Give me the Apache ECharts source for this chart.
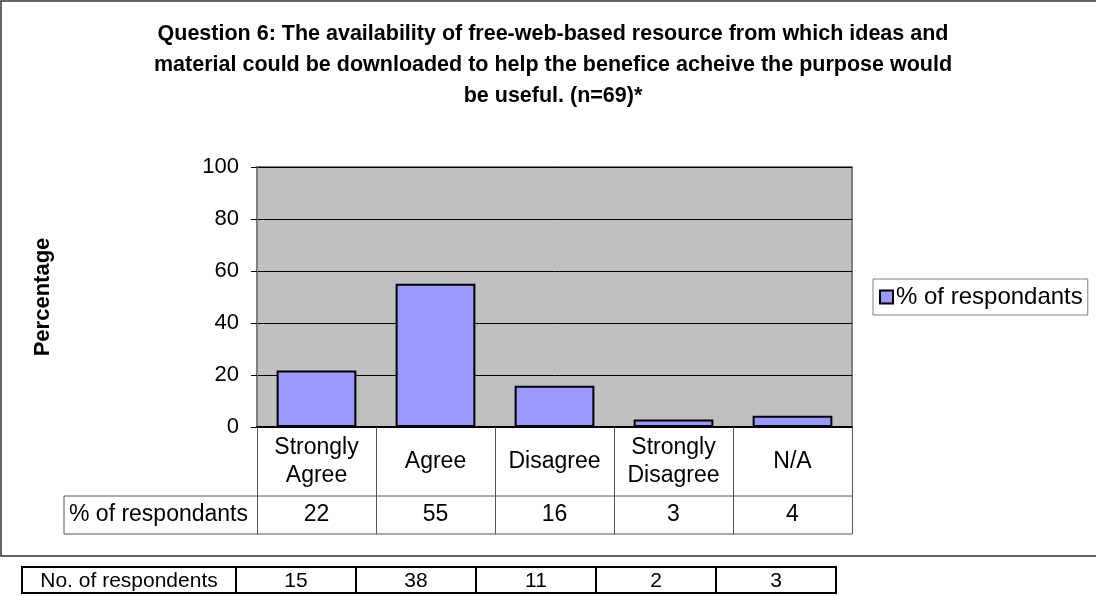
<!DOCTYPE html>
<html>
<head>
<meta charset="utf-8">
<script src="https://cdn.jsdelivr.net/npm/echarts@6/dist/echarts.min.js"></script>
<style>
html,body{margin:0;padding:0;background:#fff;}
#main{width:1096px;height:596px;}
</style>
</head>
<body>
<div id="main"></div>
<script>
// ---- data ----
const titleText = 'Question 6: The availability of free-web-based resource from which ideas and\nmaterial could be downloaded to help the benefice acheive the purpose would\nbe useful. (n=69)*';
const categories = ['Strongly\nAgree', 'Agree', 'Disagree', 'Strongly\nDisagree', 'N/A'];
const seriesName = '% of respondants';
const percentValues = [21.7, 55.1, 15.9, 2.9, 4.3];
const percentLabels = ['22', '55', '16', '3', '4'];
const countRowLabel = 'No. of respondents';
const countValues = ['15', '38', '11', '2', '3'];
const yTicks = [0, 20, 40, 60, 80, 100];
const yAxisTitle = 'Percentage';

// ---- layout ----
const FONT = "'Liberation Sans', Arial, sans-serif";
const G = { left: 257, top: 167, width: 595, height: 260 };
const ROW1_BOTTOM = 496, ROW2_BOTTOM = 534, TABLE_LEFT = 64;
const gRight = G.left + G.width, gBottom = G.top + G.height;

const chart = echarts.init(document.getElementById('main'));

const graphics = [];
// outer chart border
graphics.push({ type: 'rect', shape: { x: 1, y: 1, width: 1110, height: 555 },
  style: { fill: 'none', stroke: '#333', lineWidth: 1.5 }, z: 0 });
// data table lines
graphics.push({ type: 'line', shape: { x1: TABLE_LEFT, y1: ROW1_BOTTOM, x2: gRight, y2: ROW1_BOTTOM }, style: { stroke: '#555', lineWidth: 1 } });
graphics.push({ type: 'line', shape: { x1: TABLE_LEFT, y1: ROW2_BOTTOM, x2: gRight, y2: ROW2_BOTTOM }, style: { stroke: '#555', lineWidth: 1 } });
graphics.push({ type: 'line', shape: { x1: TABLE_LEFT, y1: ROW1_BOTTOM, x2: TABLE_LEFT, y2: ROW2_BOTTOM }, style: { stroke: '#555', lineWidth: 1 } });
graphics.push({ type: 'text', x: TABLE_LEFT + 5, y: (ROW1_BOTTOM + ROW2_BOTTOM) / 2,
  style: { text: seriesName, font: '23px ' + FONT, fill: '#000', verticalAlign: 'middle' } });

// bottom separate table
const BT = { left: 22, top: 567, h: 26, firstW: 214, cellW: 120 };
graphics.push({ type: 'rect', shape: { x: BT.left, y: BT.top, width: BT.firstW, height: BT.h },
  style: { fill: '#fff', stroke: '#000', lineWidth: 2 } });
graphics.push({ type: 'text', x: BT.left + BT.firstW / 2, y: BT.top + BT.h / 2 + 1,
  style: { text: countRowLabel, font: '21px ' + FONT, fill: '#000', align: 'center', verticalAlign: 'middle' } });
countValues.forEach((v, i) => {
  const x = BT.left + BT.firstW + i * BT.cellW;
  graphics.push({ type: 'rect', shape: { x: x, y: BT.top, width: BT.cellW, height: BT.h },
    style: { fill: '#fff', stroke: '#000', lineWidth: 2 } });
  graphics.push({ type: 'text', x: x + BT.cellW / 2, y: BT.top + BT.h / 2 + 1,
    style: { text: v, font: '21px ' + FONT, fill: '#000', align: 'center', verticalAlign: 'middle' } });
});

const option = {
  animation: false,
  textStyle: { fontFamily: FONT },
  title: {
    text: titleText, left: 548, top: 14, textAlign: 'center',
    textStyle: { fontFamily: FONT, fontSize: 21.5, fontWeight: 'bold', color: '#000', lineHeight: 31 }
  },
  legend: {
    data: [seriesName], left: 873, top: 279,
    orient: 'vertical',
    padding: [6, 5, 6, 6], itemWidth: 13, itemHeight: 13, itemGap: 5,
    backgroundColor: '#fff', borderColor: '#808080', borderWidth: 1, borderRadius: 0,
    textStyle: { fontFamily: FONT, fontSize: 24, color: '#000', padding: [0, 0, 0, -2] },
    icon: 'rect'
  },
  grid: { left: G.left, top: G.top, width: G.width, height: G.height,
    show: true, backgroundColor: '#C0C0C0', borderColor: '#808080', borderWidth: 2 },
  xAxis: [{
    type: 'category', data: categories, position: 'bottom',
    axisLine: { show: true, lineStyle: { color: '#000', width: 2 } },
    axisTick: { show: true, length: ROW2_BOTTOM - gBottom, lineStyle: { color: '#555', width: 1 } },
    axisLabel: { margin: (ROW1_BOTTOM - gBottom) / 2, verticalAlign: 'middle', fontSize: 23, lineHeight: 28, color: '#000', fontFamily: FONT, interval: 0 },
    splitLine: { show: false }
  }, {
    type: 'category', data: categories, position: 'bottom', offset: (ROW1_BOTTOM + ROW2_BOTTOM) / 2 - gBottom,
    axisLine: { show: false }, axisTick: { show: false },
    axisLabel: { margin: 0, verticalAlign: 'middle', fontSize: 23, color: '#000', fontFamily: FONT, interval: 0,
      formatter: (v, i) => percentLabels[i] }
  }],
  yAxis: {
    type: 'value', min: yTicks[0], max: yTicks[yTicks.length - 1], interval: yTicks[1] - yTicks[0],
    name: yAxisTitle, nameLocation: 'middle', nameRotate: 90, nameGap: 203,
    nameTextStyle: { fontFamily: FONT, fontSize: 22, fontWeight: 'bold', color: '#000' },
    axisLine: { show: true, lineStyle: { color: '#808080', width: 2 } },
    axisTick: { show: true, length: 6, lineStyle: { color: '#000', width: 1 } },
    axisLabel: { margin: 18, fontSize: 22, color: '#000', fontFamily: FONT },
    splitLine: { show: true, lineStyle: { color: '#000', width: 1 } }
  },
  series: [{
    name: seriesName, type: 'bar', data: percentValues, xAxisIndex: 0,
    barCategoryGap: '33%',
    itemStyle: { color: '#9999FF', borderColor: '#000', borderWidth: 2 }
  }],
  graphic: graphics
};
chart.setOption(option);
</script>
</body>
</html>
